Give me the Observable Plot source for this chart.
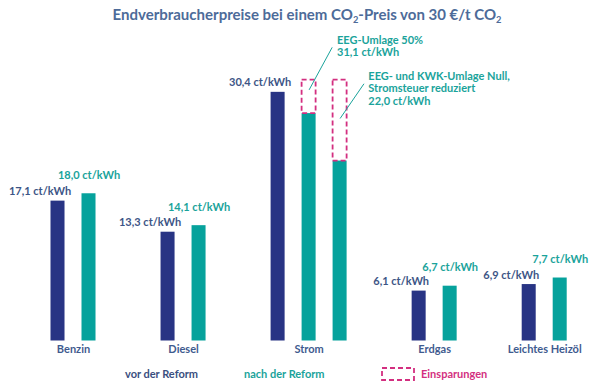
<!DOCTYPE html>
<html><head><meta charset="utf-8">
<script src="https://cdn.jsdelivr.net/npm/d3@7"></script>
<script src="https://cdn.jsdelivr.net/npm/@observablehq/plot@0.6"></script>
<style>
body{margin:0;background:#fff;font-family:Lato,"Open Sans",sans-serif;}
#wrap{position:relative;width:600px;height:385px;overflow:hidden;background:#fff}
#title{position:absolute;left:0;top:6px;width:614px;text-align:center;font-size:15px;line-height:16px;font-weight:bold;color:#4d6b99;white-space:nowrap}
#title sub{font-size:0.62em;vertical-align:-0.3em;line-height:0}
#chart{position:absolute;left:0;top:30px}
.lg{position:absolute;top:367px;font-size:11px;line-height:14px;font-weight:bold;white-space:nowrap}
</style></head><body>
<div id="wrap">
<div id="title">Endverbraucherpreise bei einem CO<sub>2</sub>-Preis von 30 €/t CO<sub>2</sub></div>
<div id="chart"></div>
<div id="legend"></div>
</div>
<script>
// ---- data ----
const categories = ["Benzin", "Diesel", "Strom", "Erdgas", "Leichtes Heizöl"];
const vorWerte = [17.1, 13.3, 30.4, 6.1, 6.9];
const nachWerte = [18.0, 14.1, 27.8, 6.7, 7.7];   // Strom: EEG-Umlage 50%
const stromNullWert = 22.0;                       // Strom: EEG- und KWK-Umlage Null
const stromOhneEntlastung = 31.9;                 // top of savings boxes
const vorLabels = ["17,1 ct/kWh", "13,3 ct/kWh", "30,4 ct/kWh", "6,1 ct/kWh", "6,9 ct/kWh"];
const nachLabels = ["18,0 ct/kWh", "14,1 ct/kWh", "", "6,7 ct/kWh", "7,7 ct/kWh"];
const annotationTexts = ["EEG-Umlage 50%\n31,1 ct/kWh", "EEG- und KWK-Umlage Null,\nStromsteuer reduziert\n22,0 ct/kWh"];
const legendLabels = ["vor der Reform", "nach der Reform", "Einsparungen"];

// ---- styles / layout ----
const NAVY = "#283484", TEAL = "#06a29c", SLATE = "#3d5586", TEALTXT = "#1aa39b", CAT = "#3f5b8f", MAG = "#d32f80";
const GAP = 2.55, HW = 0.226;

const bars = [], groups = [];
let p = 0;
categories.forEach((c, i) => {
  const start = p;
  bars.push({cat: c, pos: p, value: vorWerte[i], kind: "vor", label: vorLabels[i]});
  p += 1;
  bars.push({cat: c, pos: p, value: nachWerte[i], kind: "nach", label: nachLabels[i]});
  if (c === "Strom") {
    p += 1;
    bars.push({cat: c, pos: p, value: stromNullWert, kind: "nach2", label: ""});
  }
  groups.push({cat: c, center: (start + p) / 2});
  p += GAP;
});
const stromNach = bars.filter(d => d.cat === "Strom" && d.kind !== "vor");
const savings = stromNach.map(d => ({pos: d.pos, y1: d.value, y2: stromOhneEntlastung}));

const ann = [
  {x: stromNach[0].pos + 0.9, y: 37.4, text: annotationTexts[0],
   lx1: stromNach[0].pos, ly1: 30.7, lx2: stromNach[0].pos + 0.745, ly2: 35.9},
  {x: stromNach[1].pos + 0.91, y: 33.0, text: annotationTexts[1],
   lx1: stromNach[1].pos, ly1: 27.2, lx2: stromNach[1].pos + 0.77, ly2: 31.45}
];

const chart = Plot.plot({
  width: 600, height: 330,
  marginLeft: 0, marginRight: 0, marginTop: 0, marginBottom: 19.5,
  x: {type: "linear", domain: [-1.855, 17.5], axis: null},
  y: {domain: [0, 37.96], axis: null},
  style: {fontFamily: "Lato, 'Open Sans', sans-serif", background: "transparent", overflow: "visible"},
  marks: [
    Plot.rect(bars, {x1: d => d.pos - HW, x2: d => d.pos + HW, y1: 0, y2: "value",
      fill: d => d.kind === "vor" ? NAVY : TEAL}),
    Plot.rect(savings, {x1: d => d.pos - HW, x2: d => d.pos + HW, y1: "y1", y2: "y2",
      fill: "none", stroke: MAG, strokeWidth: 1.8, strokeDasharray: "5,3"}),
    Plot.text(bars.filter(d => d.kind === "vor"), {x: "pos", y: "value", text: "label",
      dx: -18, dy: -9.5, fill: SLATE, fontWeight: "bold", fontSize: 11}),
    Plot.text(bars.filter(d => d.kind === "nach" && d.label), {x: "pos", y: "value", text: "label",
      dx: 0, dy: -18.5, fill: TEALTXT, fontWeight: "bold", fontSize: 11}),
    Plot.text(groups, {x: "center", y: 0, text: "cat", dy: 8, fill: CAT, fontWeight: "bold", fontSize: 11}),
    Plot.link(ann, {x1: "lx1", y1: "ly1", x2: "lx2", y2: "ly2", stroke: TEALTXT, strokeWidth: 1}),
    Plot.text(ann, {x: "x", y: "y", text: "text", textAnchor: "start", lineAnchor: "top",
      lineHeight: 1.13, fill: TEALTXT, fontWeight: "bold", fontSize: 11})
  ]
});
document.getElementById("chart").appendChild(chart);

const lg = document.getElementById("legend");
lg.innerHTML =
  `<span class="lg" style="left:125px;color:#3a4f80">${legendLabels[0]}</span>` +
  `<span class="lg" style="left:244px;color:${TEALTXT}">${legendLabels[1]}</span>` +
  `<svg style="position:absolute;left:381px;top:367px" width="35" height="15"><rect x="1" y="1" width="32" height="12" fill="none" stroke="${MAG}" stroke-width="1.8" stroke-dasharray="5,3"/></svg>` +
  `<span class="lg" style="left:421px;color:${MAG}">${legendLabels[2]}</span>`;
</script>
</body></html>
